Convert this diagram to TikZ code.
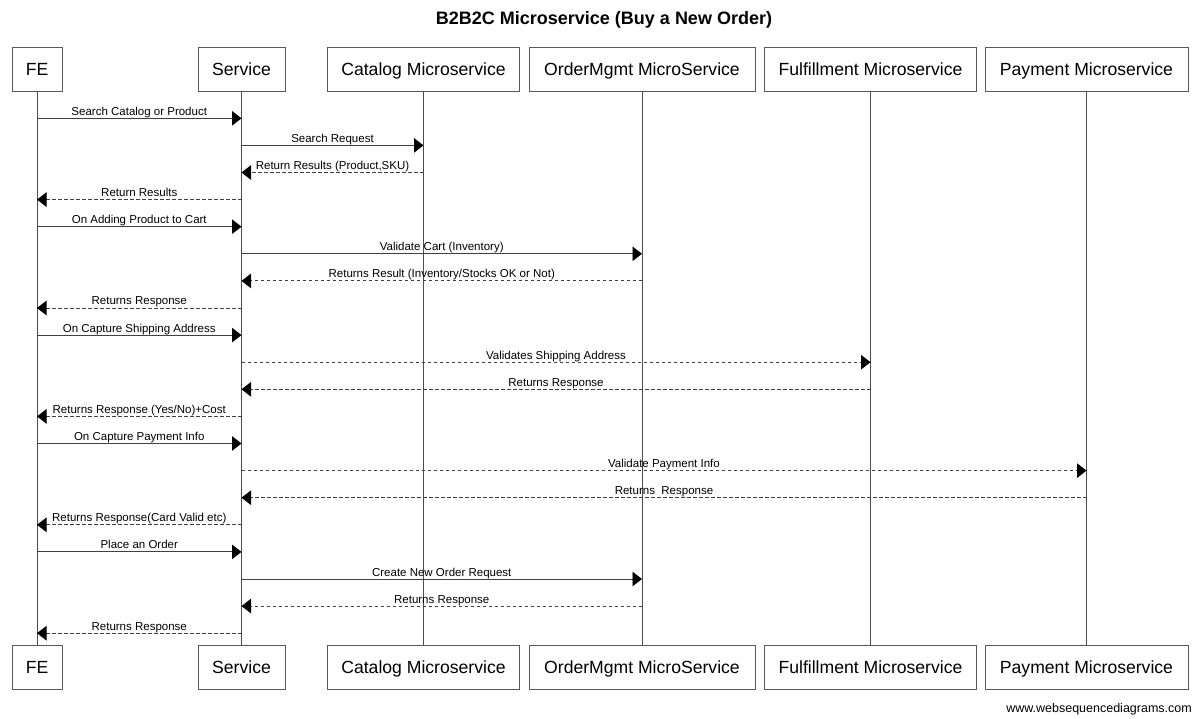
\documentclass[tikz,border=0pt]{standalone}
\usepackage{fontspec}
\setmainfont{Liberation Sans}
\usetikzlibrary{arrows.meta}
\begin{document}
\begin{tikzpicture}[x=1pt,y=-1pt,
  part/.style={draw=black!65, line width=0.9pt, fill=white, minimum height=44pt, inner sep=0pt, text height=12.6pt, text depth=0pt, font=\fontsize{17.6}{20}\selectfont},
  life/.style={draw=black!70, line width=0.9pt},
  msg/.style={draw=black!75, line width=0.9pt, -{Triangle[length=9.5pt,width=14.5pt,color=black]}},
  ret/.style={msg, dash pattern=on 3.5pt off 2.5pt},
  lbl/.style={font=\fontsize{11.5}{13}\selectfont, anchor=base, inner sep=0pt, yshift=3pt, text=black}
]
\fill[white] (0,0) rectangle (1200,719);
\node[anchor=base, font=\bfseries\fontsize{18}{21}\selectfont, inner sep=0pt] (title) at (604,25) {B2B2C Microservice (Buy a New Order)};

% top participants
\node[part, minimum width=50pt]  (fe)  at (37,69)    {FE};
\node[part, minimum width=87pt]  (sv)  at (241.5,69) {Service};
\node[part, minimum width=192pt] (cat) at (423.5,69)   {Catalog Microservice};
\node[part, minimum width=226pt] (om)  at (642,69)   {OrderMgmt MicroService};
\node[part, minimum width=212pt] (ful) at (870.5,69)   {Fulfillment Microservice};
\node[part, minimum width=203pt] (pay) at (1086.5,69) {Payment Microservice};
% bottom participants
\node[part, minimum width=50pt]  (feb)  at (37,667)    {FE};
\node[part, minimum width=87pt]  (svb)  at (241.5,667) {Service};
\node[part, minimum width=192pt] (catb) at (423.5,667)   {Catalog Microservice};
\node[part, minimum width=226pt] (omb)  at (642,667)   {OrderMgmt MicroService};
\node[part, minimum width=212pt] (fulb) at (870.5,667)   {Fulfillment Microservice};
\node[part, minimum width=203pt] (payb) at (1086.5,667) {Payment Microservice};

% lifelines
\draw[life] (fe) -- (feb);
\draw[life] (sv) -- (svb);
\draw[life] (cat) -- (catb);
\draw[life] (om) -- (omb);
\draw[life] (ful) -- (fulb);
\draw[life] (pay) -- (payb);

% messages
\draw[msg] (fe.south |- 0,118.3) -- node[lbl]{Search Catalog or Product} (sv.south |- 0,118.3);
\draw[msg] (sv.south |- 0,145.4) -- node[lbl]{Search Request} (cat.south |- 0,145.4);
\draw[ret] (cat.south |- 0,172.5) -- node[lbl]{Return Results (Product,SKU)} (sv.south |- 0,172.5);
\draw[ret] (sv.south |- 0,199.6) -- node[lbl]{Return Results} (fe.south |- 0,199.6);
\draw[msg] (fe.south |- 0,226.7) -- node[lbl]{On Adding Product to Cart} (sv.south |- 0,226.7);
\draw[msg] (sv.south |- 0,253.8) -- node[lbl]{Validate Cart (Inventory)} (om.south |- 0,253.8);
\draw[ret] (om.south |- 0,280.9) -- node[lbl]{Returns Result (Inventory/Stocks OK or Not)} (sv.south |- 0,280.9);
\draw[ret] (sv.south |- 0,308.0) -- node[lbl]{Returns Response} (fe.south |- 0,308.0);
\draw[msg] (fe.south |- 0,335.1) -- node[lbl]{On Capture Shipping Address} (sv.south |- 0,335.1);
\draw[ret] (sv.south |- 0,362.2) -- node[lbl]{Validates Shipping Address} (ful.south |- 0,362.2);
\draw[ret] (ful.south |- 0,389.3) -- node[lbl]{Returns Response} (sv.south |- 0,389.3);
\draw[ret] (sv.south |- 0,416.4) -- node[lbl]{Returns Response (Yes/No)+Cost} (fe.south |- 0,416.4);
\draw[msg] (fe.south |- 0,443.5) -- node[lbl]{On Capture Payment Info} (sv.south |- 0,443.5);
\draw[ret] (sv.south |- 0,470.6) -- node[lbl]{Validate Payment Info} (pay.south |- 0,470.6);
\draw[ret] (pay.south |- 0,497.7) -- node[lbl]{Returns~~Response} (sv.south |- 0,497.7);
\draw[ret] (sv.south |- 0,524.8) -- node[lbl]{Returns Response(Card Valid etc)} (fe.south |- 0,524.8);
\draw[msg] (fe.south |- 0,551.9) -- node[lbl]{Place an Order} (sv.south |- 0,551.9);
\draw[msg] (sv.south |- 0,579.0) -- node[lbl]{Create New Order Request} (om.south |- 0,579.0);
\draw[ret] (om.south |- 0,606.1) -- node[lbl]{Returns Response} (sv.south |- 0,606.1);
\draw[ret] (sv.south |- 0,633.2) -- node[lbl]{Returns Response} (fe.south |- 0,633.2);

\node[anchor=base east, font=\fontsize{12.5}{14}\selectfont, inner sep=0pt] (foot) at (1192,712) {www.websequencediagrams.com};
\end{tikzpicture}
\end{document}
